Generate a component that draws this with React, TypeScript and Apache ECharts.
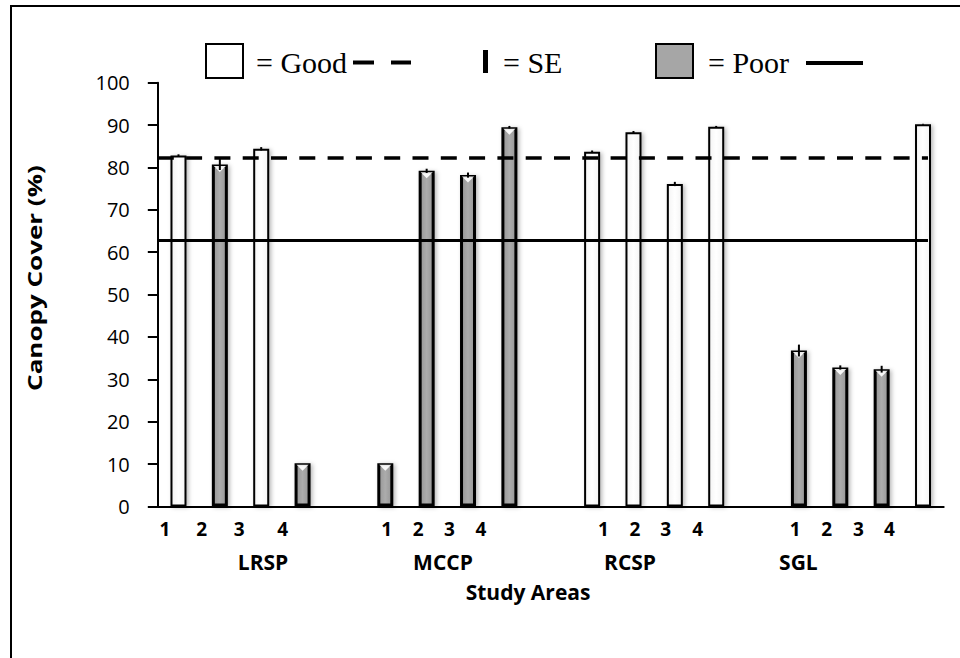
import React, { useEffect, useRef } from 'react';
import * as echarts from 'echarts';

// 19 category slots: 4 bars per study area with an empty slot between areas
const categories = [
  'LRSP-a', 'LRSP-b', 'LRSP-c', 'LRSP-d', 'gap-1',
  'MCCP-a', 'MCCP-b', 'MCCP-c', 'MCCP-d', 'gap-2',
  'RCSP-a', 'RCSP-b', 'RCSP-c', 'RCSP-d', 'gap-3',
  'SGL-a', 'SGL-b', 'SGL-c', 'SGL-d',
];
const canopyValues: (number | null)[] = [
  82.8, 80.7, 84.4, 10.2, null,
  10.2, 79.2, 78.2, 89.5, null,
  83.7, 88.3, 76.1, 89.6, null,
  36.8, 32.8, 32.4, 90.2,
];
const condition = [
  'Good', 'Poor', 'Good', 'Poor', '',
  'Poor', 'Poor', 'Poor', 'Poor', '',
  'Good', 'Good', 'Good', 'Good', '',
  'Poor', 'Poor', 'Poor', 'Good',
];
const seValues: (number | null)[] = [
  0.3, 1.3, 0.4, 0, null,
  0, 0.5, 0.6, 0.3, null,
  0.3, 0.3, 0.5, 0.2, null,
  1.4, 0.5, 0.8, 0.1,
];
const goodThreshold = 82.2;
const poorThreshold = 62.9;
const thresholdEnd = 18.62; // in category units

const yTicks = { min: 0, max: 100, interval: 10 };

// irregular tick labels under the axis (category-unit positions)
const siteLabels = ['1', '2', '3', '4', '1', '2', '3', '4', '1', '2', '3', '4', '1', '2', '3', '4'];
const siteLabelPos = [
  0.174, 1.061, 1.970, 3.020,
  5.534, 6.298, 7.048, 7.814,
  10.771, 11.538, 12.280, 13.054,
  15.408, 16.173, 16.937, 17.686,
];
const areaNames = ['LRSP', 'MCCP', 'RCSP', 'SGL'];
const areaNamePos = [2.544, 6.895, 11.417, 15.487];
const xTitle = 'Study Areas';
const xTitlePos = 8.951;
const yTitle = 'Canopy Cover (%)';

const GRAY = '#a6a6a6';

export default function App() {
  const ref = useRef<HTMLDivElement>(null);
  useEffect(() => {
    if (!ref.current) return;
    const chart = echarts.init(ref.current, undefined, { renderer: 'svg' });

    const grayFill = new echarts.graphic.LinearGradient(0, 0, 1, 0, [
      { offset: 0, color: '#969696' },
      { offset: 0.5, color: '#acacac' },
      { offset: 1, color: '#969696' },
    ]);
    const whiteFill = new echarts.graphic.LinearGradient(0, 0, 1, 0, [
      { offset: 0, color: '#f4f4f4' },
      { offset: 0.5, color: '#ffffff' },
      { offset: 1, color: '#f4f4f4' },
    ]);

    const barData = canopyValues.map((v, i) => {
      if (v == null) return '-';
      const poor = condition[i] === 'Poor';
      return {
        value: v,
        itemStyle: {
          color: poor ? grayFill : whiteFill,
          borderColor: '#000',
          borderWidth: poor ? 3 : 2,
        },
      };
    });

    const errData: any[] = [];
    canopyValues.forEach((v, i) => {
      const se = seValues[i];
      if (v != null && se != null && se > 0) errData.push([i, v - se, v + se]);
    });

    const bevelData: any[] = [];
    canopyValues.forEach((v, i) => {
      if (v != null && condition[i] === 'Poor') bevelData.push([i, v]);
    });

    const labelText = (fontSize: number, offsetY: number) => ({
      show: true,
      position: 'inside',
      offset: [0, offsetY],
      formatter: '{b}',
      color: '#000',
      textBorderWidth: 0,
      opacity: 1,
      fontSize,
      fontWeight: 'bold',
      fontFamily: 'Open Sans',
    });

    const labelSeries = (data: any[], fontSize: number, offsetY: number, extra: any = {}) => ({
      type: 'scatter',
      xAxisIndex: 1,
      z: 6,
      symbolSize: 0,
      itemStyle: { color: '#000' },
      silent: true,
      data,
      label: labelText(fontSize, offsetY),
      ...extra,
    });

    const option: any = {
      animation: false,
      backgroundColor: '#fff',
      grid: { left: 157.8, right: 16.3, top: 82.7, bottom: 151.5 },
      xAxis: [
        {
          type: 'category',
          data: categories,
          boundaryGap: true,
          axisLine: { show: true, lineStyle: { color: '#000', width: 2 } },
          axisTick: { show: false },
          axisLabel: { show: false },
          splitLine: { show: false },
        },
        {
          type: 'value',
          min: 0,
          max: categories.length,
          show: false,
        },
      ],
      yAxis: {
        type: 'value',
        min: yTicks.min,
        max: yTicks.max,
        interval: yTicks.interval,
        axisLine: { show: true, lineStyle: { color: '#000', width: 2 } },
        axisTick: { show: true, inside: false, length: 10, lineStyle: { color: '#000', width: 2 } },
        axisLabel: { color: '#000', fontSize: 20, fontFamily: 'Open Sans', margin: 28 },
        splitLine: { show: false },
      },
      series: [
        {
          type: 'bar',
          data: barData,
          barWidth: 16,
          z: 2,
          itemStyle: {
            shadowBlur: 4,
            shadowColor: 'rgba(0,0,0,0.28)',
            shadowOffsetX: 2,
            shadowOffsetY: 1,
          },
        },
        {
          type: 'custom',
          z: 3,
          data: bevelData,
          silent: true,
          renderItem: (params: any, api: any) => {
            const p = api.coord([api.value(0), api.value(1)]);
            return {
              type: 'polygon',
              shape: {
                points: [
                  [p[0] - 6, p[1] + 1.5],
                  [p[0] + 6, p[1] + 1.5],
                  [p[0], p[1] + 7.5],
                ],
              },
              style: { fill: 'rgba(255,255,255,0.92)' },
            };
          },
        },
        {
          type: 'custom',
          z: 4,
          data: errData,
          silent: true,
          renderItem: (params: any, api: any) => {
            const lo = api.coord([api.value(0), api.value(1)]);
            const hi = api.coord([api.value(0), api.value(2)]);
            return {
              type: 'line',
              shape: { x1: lo[0], y1: lo[1], x2: hi[0], y2: hi[1] },
              style: { stroke: '#000', lineWidth: 2 },
            };
          },
        },
        labelSeries(
          siteLabelPos.map((p, i) => ({ name: siteLabels[i], value: [p, 0] })),
          19,
          22.5,
          {
            markLine: {
              silent: true,
              symbol: 'none',
              label: { show: false },
              data: [
                [
                  { coord: [0, goodThreshold], lineStyle: { color: '#000', width: 3.5, type: [16, 12.3] } },
                  { coord: [thresholdEnd, goodThreshold] },
                ],
                [
                  { coord: [0, poorThreshold], lineStyle: { color: '#000', width: 3, type: 'solid' } },
                  { coord: [thresholdEnd, poorThreshold] },
                ],
              ],
            },
          }
        ),
        labelSeries(areaNamePos.map((p, i) => ({ name: areaNames[i], value: [p, 0] })), 21, 55.5),
        labelSeries([{ name: xTitle, value: [xTitlePos, 0] }], 21, 85),
      ],
      graphic: [
        {
          type: 'rect',
          shape: { x: 11, y: 6, width: 1200, height: 1000 },
          style: { fill: 'none', stroke: '#000', lineWidth: 2 },
          silent: true,
        },
        {
          type: 'text',
          x: 34,
          y: 278,
          rotation: Math.PI / 2,
          scaleX: 1.3,
          style: {
            text: yTitle,
            align: 'center',
            verticalAlign: 'middle',
            fontSize: 20,
            fontWeight: 'bold',
            fontFamily: 'Open Sans',
            fill: '#000',
          },
        },
        // legend: Good
        {
          type: 'rect',
          shape: { x: 206, y: 44, width: 37, height: 34 },
          style: { fill: '#fff', stroke: '#000', lineWidth: 2 },
        },
        {
          type: 'text',
          x: 256,
          y: 62,
          style: { text: '= Good', verticalAlign: 'middle', fontSize: 30, fontFamily: 'Liberation Serif', fill: '#000' },
        },
        { type: 'rect', shape: { x: 353, y: 60.5, width: 21, height: 4 }, style: { fill: '#000' } },
        { type: 'rect', shape: { x: 391, y: 60.5, width: 20, height: 4 }, style: { fill: '#000' } },
        // legend: SE
        { type: 'rect', shape: { x: 483, y: 50, width: 5, height: 23 }, style: { fill: '#000' } },
        {
          type: 'text',
          x: 503,
          y: 62,
          style: { text: '= SE', verticalAlign: 'middle', fontSize: 30, fontFamily: 'Liberation Serif', fill: '#000' },
        },
        // legend: Poor
        {
          type: 'rect',
          shape: { x: 656, y: 44, width: 37, height: 34 },
          style: { fill: GRAY, stroke: '#000', lineWidth: 2 },
        },
        {
          type: 'text',
          x: 708,
          y: 62,
          style: { text: '= Poor', verticalAlign: 'middle', fontSize: 30, fontFamily: 'Liberation Serif', fill: '#000' },
        },
        { type: 'rect', shape: { x: 806, y: 61, width: 57, height: 4 }, style: { fill: '#000' } },
      ],
    };

    chart.setOption(option);
    return () => chart.dispose();
  }, []);

  return (
    <div
      ref={ref}
      style={{ position: 'fixed', left: 0, top: 0, width: 960, height: 658, background: '#fff' }}
    />
  );
}
